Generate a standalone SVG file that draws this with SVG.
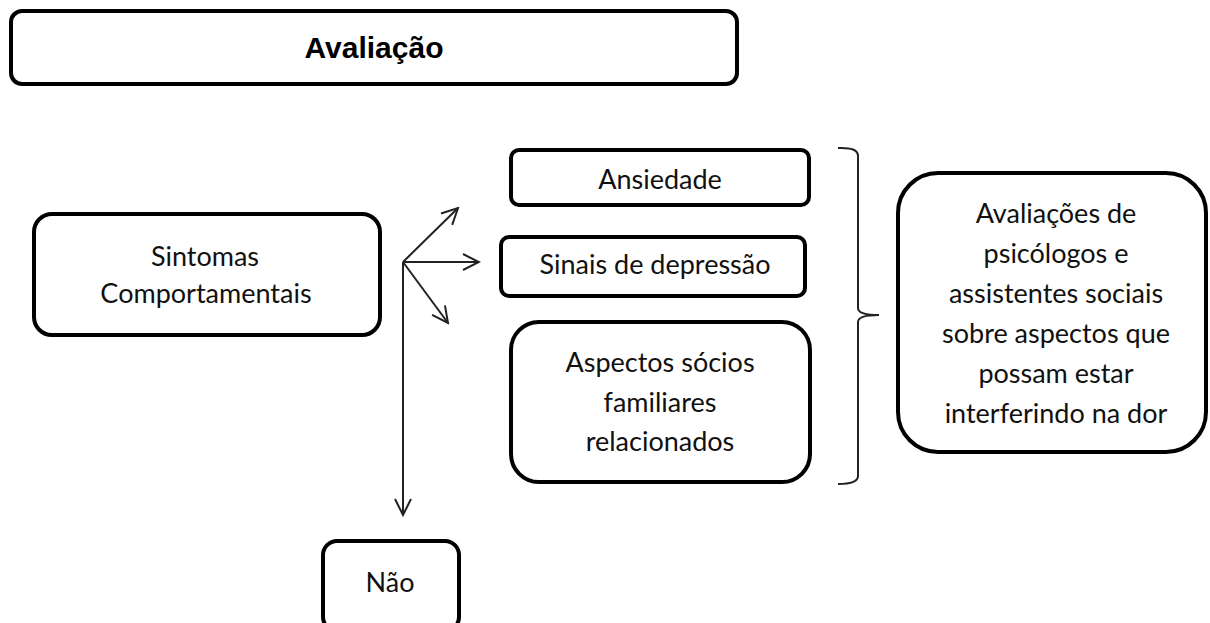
<svg xmlns="http://www.w3.org/2000/svg" width="1210" height="623" viewBox="0 0 1210 623">
<style>
.box{fill:#fff;stroke:#000;stroke-width:4}
.t{font-family:Lato,"Carlito","Liberation Sans",sans-serif;font-size:27px;fill:#111;text-anchor:middle}
.title{font-family:"Liberation Sans",Arial,sans-serif;font-size:30px;font-weight:bold;fill:#000;text-anchor:middle}
.ln{fill:none;stroke:#222;stroke-width:2}
</style>
<defs>
<marker id="ah" viewBox="0 0 20 20" refX="18" refY="10" markerWidth="20" markerHeight="20" markerUnits="userSpaceOnUse" orient="auto">
<path d="M2,2 L18,10 L2,18" fill="none" stroke="#222" stroke-width="2"/>
</marker>
</defs>
<rect width="1210" height="623" fill="#fff"/>
<g id="avaliacao"><rect class="box" x="11" y="11" width="726" height="73" rx="11"/><text class="title" x="374" y="58">Avaliação</text></g>
<g id="sintomas"><rect class="box" x="34" y="214" width="346" height="121" rx="18"/><text class="t" x="205" y="266">Sintomas</text><text class="t" x="206" y="303">Comportamentais</text></g>
<g id="ansiedade"><rect class="box" x="511" y="150" width="298" height="55" rx="8"/><text class="t" x="660" y="189">Ansiedade</text></g>
<g id="depressao"><rect class="box" x="501" y="237" width="304" height="59" rx="8"/><text class="t" x="655" y="274">Sinais de depressão</text></g>
<g id="aspectos"><rect class="box" x="511" y="322" width="299" height="160" rx="28"/><text class="t" x="660" y="372">Aspectos sócios</text><text class="t" x="660" y="412">familiares</text><text class="t" x="660" y="451">relacionados</text></g>
<g id="avaliacoes"><rect class="box" x="898" y="173" width="308" height="279" rx="40"/><text class="t" x="1056" y="223">Avaliações de</text><text class="t" x="1056" y="263">psicólogos e</text><text class="t" x="1056" y="303">assistentes sociais</text><text class="t" x="1056" y="343">sobre aspectos que</text><text class="t" x="1056" y="383">possam estar</text><text class="t" x="1056" y="423">interferindo na dor</text></g>
<g id="nao"><rect class="box" x="323" y="541" width="136" height="90" rx="14"/><text class="t" x="390" y="592">Não</text></g>
<g id="connectors">
<line class="ln" x1="403" y1="262" x2="458" y2="208" marker-end="url(#ah)"/>
<line class="ln" x1="403" y1="262" x2="479" y2="262" marker-end="url(#ah)"/>
<line class="ln" x1="403" y1="262" x2="448" y2="323" marker-end="url(#ah)"/>
<line class="ln" x1="403" y1="262" x2="403" y2="515" marker-end="url(#ah)"/>
<path class="ln" d="M838,148 Q858,147 858,156 L858,308 Q858,315 879,315 Q858,315 858,322 L858,476 Q858,484 838,484"/>
</g>
</svg>
